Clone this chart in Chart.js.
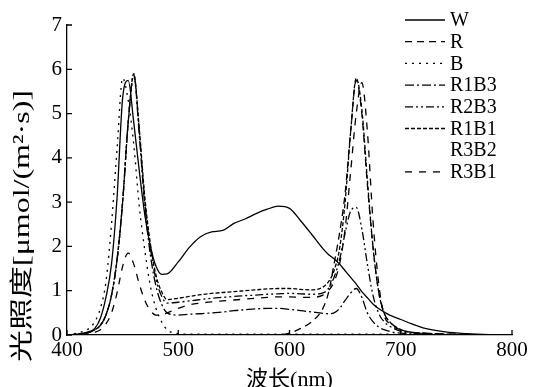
<!DOCTYPE html>
<html><head><meta charset="utf-8">
<script src="https://cdn.jsdelivr.net/npm/chart.js@4/dist/chart.umd.min.js"></script>
<style>html,body{margin:0;padding:0;background:#fff;}canvas{display:block;}</style>
</head><body>
<canvas id="c" width="540" height="387"></canvas>
<script>
// wavelength grid (nm)
const wavelengths = [400,410,420,425,430,435,440,445,450,455, 460,465,470,475,480,485,490,500,510,520, 530,540,550,560,570,580,590,600,610,620, 630,635,640,645,650,655,660,665,670,675, 680,685,690,700,710,720,740,760,780,800];

const W    = [0,0.02,0.08,0.15,0.38,0.85,1.6,3.1,5.35,5.75, 4.8,3.7,2.7,2.0,1.55,1.37,1.38,1.65,1.98,2.22, 2.33,2.36,2.52,2.62,2.74,2.84,2.91,2.86,2.58,2.27, 1.95,1.82,1.72,1.6,1.45,1.3,1.15,0.98,0.84,0.7, 0.6,0.52,0.45,0.35,0.25,0.16,0.07,0.03,0.01,0];
const R    = [0,0,0,0,0,0,0,0,0,0, 0,0,0,0,0,0,0,0,0,0, 0,0,0,0,0,0,0,0.04,0.15,0.3, 0.6,0.95,1.6,2.3,3.2,4.6,5.75,5.0,3.4,2.0, 1.0,0.5,0.3,0.12,0.06,0.04,0.02,0.01,0,0];
const B    = [0,0.05,0.15,0.3,0.6,1.2,2.5,4.2,5.8,5.3, 4.3,2.9,1.9,1.1,0.6,0.3,0.12,0.03,0.02,0.02, 0.02,0.02,0.02,0.02,0.02,0.02,0.02,0.02,0.02,0.02, 0.02,0.02,0.02,0.02,0.02,0.02,0.02,0.02,0.02,0.02, 0.02,0.02,0.02,0.01,0.01,0.01,0.01,0.01,0,0];
const R1B3 = [0,0.02,0.06,0.12,0.22,0.45,0.9,1.7,3.0,4.8, 5.88,4.5,2.9,1.8,1.1,0.7,0.5,0.45,0.47,0.48, 0.5,0.52,0.55,0.57,0.59,0.6,0.6,0.58,0.55,0.52, 0.49,0.48,0.5,0.6,0.78,0.95,1.05,0.85,0.5,0.3, 0.18,0.12,0.08,0.04,0.02,0.01,0,0,0,0];
const R2B3 = [0,0.02,0.06,0.12,0.22,0.45,0.9,1.7,3.0,4.8, 5.85,4.6,3.0,1.95,1.25,0.88,0.72,0.74,0.77,0.8, 0.83,0.85,0.87,0.89,0.9,0.92,0.93,0.94,0.93,0.92, 0.95,1.05,1.3,1.7,2.3,2.8,2.88,2.4,1.6,0.9, 0.5,0.3,0.2,0.08,0.04,0.02,0.01,0,0,0];
const R1B1 = [0,0.02,0.06,0.12,0.22,0.45,0.9,1.7,3.0,4.8, 5.9,4.65,3.1,2.05,1.35,0.98,0.8,0.83,0.87,0.91, 0.94,0.96,0.98,1.0,1.02,1.04,1.05,1.05,1.03,1.02, 1.08,1.2,1.45,1.95,3.0,4.6,5.8,5.1,3.5,2.0, 1.0,0.5,0.3,0.12,0.06,0.04,0.02,0.01,0,0];
const R3B2 = []; // legend entry only, no visible curve in the reference
const R3B1 = [0,0.01,0.03,0.06,0.12,0.25,0.5,0.95,1.55,1.85, 1.6,1.15,0.78,0.55,0.45,0.45,0.5,0.6,0.68,0.72, 0.75,0.77,0.79,0.81,0.83,0.85,0.86,0.86,0.85,0.85, 0.9,1.0,1.2,1.6,2.4,3.7,5.0,5.7,4.6,2.6, 1.2,0.45,0.25,0.12,0.06,0.04,0.02,0.01,0,0];

const seriesNames = ['W','R','B','R1B3','R2B3','R1B1','R3B2','R3B1'];
const seriesValues = [W, R, B, R1B3, R2B3, R1B1, R3B2, R3B1];
const seriesDash = [[], [7,5], [2,5], [9,3,2,3], [8,3,2,3,2,3], [4,2], [], [7,7]];
const xTicks = [400,500,600,700,800];
const yTicks = [0,1,2,3,4,5,6,7];
const xTitle = '波长(nm)';
const yTitle = '光照度[μmol/(m²·s)]';

const datasets = seriesNames.map((name, i) => ({
  label: name,
  data: seriesValues[i].map((v, j) => ({x: wavelengths[j], y: v})),
  borderColor: '#000',
  borderWidth: 1.3,
  borderDash: seriesDash[i],
  pointRadius: 0,
  fill: false,
  cubicInterpolationMode: 'monotone'
}));

const serif = '"Liberation Serif", "Noto Sans CJK SC", serif';

const decor = {
  id: 'decor',
  afterDraw(chart) {
    const ctx = chart.ctx;
    const xs = chart.scales.x, ys = chart.scales.y;
    const {left, bottom} = chart.chartArea;
    ctx.save();
    ctx.strokeStyle = '#000';
    ctx.lineWidth = 1.3;
    ctx.beginPath();
    yTicks.forEach(v => { const p = ys.getPixelForValue(v); ctx.moveTo(left, p); ctx.lineTo(left + 5, p); });
    xTicks.forEach(v => { const p = xs.getPixelForValue(v); ctx.moveTo(p, bottom); ctx.lineTo(p, bottom - 5); });
    ctx.stroke();
    ctx.restore();

    // y-axis title
    ctx.save();
    ctx.font = '23px ' + serif;
    ctx.fillStyle = '#000';
    const w = ctx.measureText(yTitle).width;
    ctx.translate(23, 226);
    ctx.rotate(-Math.PI / 2);
    ctx.scale(272 / w, 1);
    ctx.textAlign = 'center';
    ctx.textBaseline = 'middle';
    ctx.fillText(yTitle, 0, 0);
    ctx.restore();

    // legend
    ctx.save();
    ctx.font = '20px ' + serif;
    ctx.fillStyle = '#000';
    ctx.strokeStyle = '#000';
    ctx.lineWidth = 1.3;
    ctx.textAlign = 'left';
    ctx.textBaseline = 'middle';
    seriesNames.forEach((name, i) => {
      const y = 20 + i * 21.7;
      if (seriesValues[i].length) {
        ctx.setLineDash(seriesDash[i]);
        ctx.beginPath();
        ctx.moveTo(405, y);
        ctx.lineTo(445, y);
        ctx.stroke();
      }
      ctx.setLineDash([]);
      ctx.fillText(name, 450, y + 1);
    });
    ctx.restore();
  }
};

new Chart(document.getElementById('c'), {
  type: 'line',
  data: { datasets },
  options: {
    responsive: false,
    animation: false,
    layout: { padding: { left: 0, right: 28, top: 25, bottom: 0 } },
    plugins: { legend: { display: false }, tooltip: { enabled: false } },
    scales: {
      x: {
        type: 'linear', min: 400, max: 800,
        afterFit: s => { s.height = 52; },
        afterBuildTicks: s => { s.ticks = xTicks.map(v => ({value: v})); },
        ticks: { color: '#000', font: { family: serif, size: 21 }, padding: 3, maxRotation: 0 },
        grid: { display: false, drawTicks: false },
        border: { display: true, color: '#000', width: 1.3 },
        title: { display: true, text: xTitle, color: '#000', font: { family: serif, size: 22, lineHeight: 0.6 }, padding: 0 }
      },
      y: {
        type: 'linear', min: 0, max: 7,
        afterFit: s => { s.width = 67; },
        afterBuildTicks: s => { s.ticks = yTicks.map(v => ({value: v})); },
        ticks: { color: '#000', font: { family: serif, size: 21 }, padding: 5 },
        grid: { display: false, drawTicks: false },
        border: { display: true, color: '#000', width: 1.3 }
      }
    }
  },
  plugins: [decor]
});
</script>
</body></html>
